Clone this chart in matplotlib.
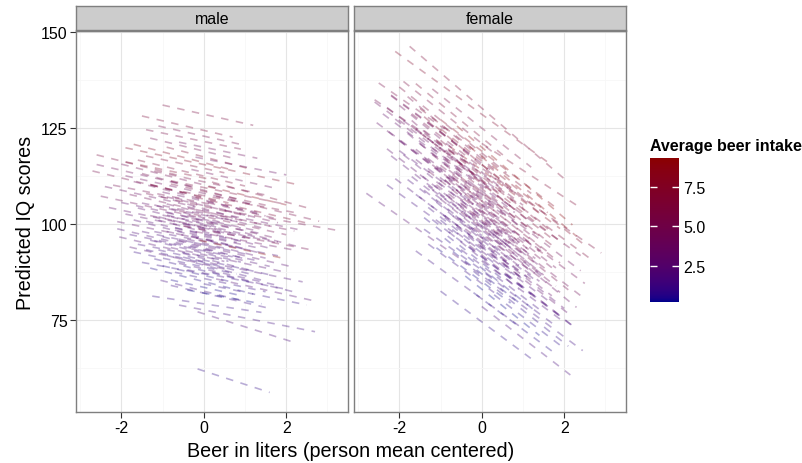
import numpy as np
import matplotlib
matplotlib.use("Agg")
import matplotlib.pyplot as plt
from matplotlib.colors import ListedColormap, Normalize, to_rgb
from matplotlib.cm import ScalarMappable

plt.rcParams['font.family'] = ['Liberation Sans', 'DejaVu Sans']
plt.rcParams['axes.unicode_minus'] = False

# one dashed line per person: start x, end x, value at x=0, slope, average beer
male_x0 = [-1.0, -1.5, -1.1, -1.9, -0.6, -1.3, -0.2, -0.9, -1.4, 0.2, 0.5, -2.7, -2.6, -2.5, -2.1, -2.05, -1.8,
           -1.25, -1.05, -0.6, -0.15, -0.15, 0.3, -0.8,
           -1.6, -1.2, -2.0, -0.8, -1.5, -1.9, -0.5, -1.3, -1.7, -1.0, -2.2, -0.7, -1.4, -1.1, -0.4, -1.8, -0.9,
           -1.5, -0.6, -1.2, -2.0, -0.3, -1.0, -1.6, -0.8, -1.3, -0.5, -1.9, -1.1, -0.2, -1.4, -0.7, -1.7, -0.9,
           -1.2, -0.4, -1.5, -0.6, -1.0, -1.8, -0.3, -1.3, -0.8, -1.6, -0.5, -1.1, -0.2, -1.4, -0.9, -1.7, -0.6,
           -1.2, -0.4, -1.0, -0.7, -1.3, 0.0, -0.8,
           0.3, -0.2, 0.4, -0.5, -2.4, -2.3, -2.6, -2.1, -1.9, -1.7, -1.4, -0.3, 0.1, -0.4, 0.2, -1.5, -0.1, 1.0,
           -0.9, -0.4, -1.1, -0.2, -0.7, -1.3, 0.0, -0.6, -1.0, -0.3, -0.8, -1.2, 0.1, -0.5, -0.9]
male_x1 = [1.2, 0.7, 0.9, 2.2, 1.3, 0.8, 2.0, 1.1, 0.5, 2.6, 3.2, -0.5, -0.3, 0.0, 0.2, 0.5, 0.6,
           1.4, 1.0, 2.7, 2.15, 1.6, 2.7, 1.6,
           1.0, 1.6, 0.4, 1.9, 0.9, 1.2, 2.3, 0.6, 1.5, 1.3, 0.2, 1.8, 1.1, 0.8, 2.4, 0.7, 1.5,
           1.0, 2.0, 0.5, 0.9, 1.7, 1.4, 0.3, 1.2, 1.9, 1.0, 0.6, 1.6, 2.2, 0.8, 1.3, 1.1, 0.7,
           1.8, 1.5, 0.4, 2.1, 1.0, 1.3, 1.6, 0.9, 1.9, 0.6, 1.2, 1.7, 2.4, 0.5, 1.4, 0.8, 1.8,
           1.1, 2.0, 0.7, 1.5, 1.2, 2.5, 0.9,
           2.8, 2.5, 2.2, 2.6, -0.2, 0.0, -0.6, 0.3, 0.1, 0.6, 0.9, 1.8, 2.0, 1.4, 2.3, 0.2, 1.9, 2.4,
           1.0, 1.3, 0.6, 1.6, 0.9, 0.4, 1.8, 1.1, 0.8, 1.4, 1.5, 0.7, 1.7, 1.2, 0.5]
male_b0 = [128.6, 124.4, 122.9, 115.5, 120.0, 119.0, 117.0, 117.5, 114.5, 111.5, 104.5, 106.8, 109.0, 101.5,
           96.0, 91.5, 89.5, 79.2, 82.5, 77.6, 76.6, 61.7, 86.4, 82.0,
           112.5, 111.0, 110.2, 109.5, 108.8, 108.0, 107.4, 107.0, 106.3, 106.0, 105.5, 105.0, 104.6, 104.0,
           103.6, 103.2, 102.8, 102.3, 102.0, 101.6, 101.0, 100.7, 100.3, 100.0, 99.6, 99.2, 98.8, 98.4, 98.0,
           97.6, 97.2, 96.8, 96.3, 95.9, 95.5, 95.0, 94.6, 94.2, 93.8, 93.3, 92.8, 92.4, 92.0, 91.5, 91.0,
           90.6, 90.2, 89.8, 89.3, 88.8, 88.3, 87.8, 87.2, 86.6, 85.8, 85.0, 84.4, 83.5,
           108.0, 106.5, 103.0, 98.5, 104.0, 99.0, 111.0, 93.5, 112.0, 116.0, 121.5, 113.5, 110.0, 82.0,
           88.0, 87.0, 95.5, 100.5,
           104.8, 101.2, 99.0, 103.3, 97.5, 106.8, 99.8, 94.6, 102.5, 96.0, 108.5, 93.0, 105.8, 90.0, 100.8]
male_slope = [-2.4, -2.5, -2.4, -2.3, -2.2, -2.6, -2.1, -2.8, -2.3, -2.9, -1.9, -2.6, -2.5, -2.3, -2.2,
              -2.5, -2.5, -1.6, -2.7, -2.1, -3.4, -3.5, -2.4, -2.5,
              -2.6, -2.3, -2.7, -2.2, -2.9, -2.4, -2.0, -2.5, -2.8, -2.3, -2.1, -2.6, -2.4, -3.0, -2.2, -2.5,
              -2.7, -2.1, -2.4, -2.8, -2.3, -2.5, -2.0, -2.6, -2.9, -2.3, -2.4, -2.2, -2.7, -2.0, -2.5, -2.3,
              -2.8, -2.4, -2.1, -2.6, -2.3, -2.5, -2.9, -2.2, -2.4, -2.6, -2.3, -2.0, -2.7, -2.4, -2.2, -2.5,
              -2.8, -2.3, -2.4, -2.6, -2.1, -2.5, -2.3, -2.7, -2.2, -2.4,
              -2.6, -2.5, -2.2, -2.0, -2.4, -2.3, -2.7, -2.5, -2.2, -2.8, -2.2, -2.4, -2.5, -2.0, -2.6, -2.0,
              -2.3, -2.8,
              -2.5, -2.3, -2.6, -2.4, -2.2, -2.7, -2.5, -2.4, -2.3, -2.6, -2.4, -2.2, -2.5, -2.7, -2.4]
male_avg = [5.8, 6.2, 5.0, 7.6, 4.0, 4.6, 3.6, 6.8, 6.4, 6.2, 5.0, 5.2, 4.2, 4.2, 3.0, 2.2, 2.3,
            1.0, 1.4, 1.3, 1.8, 0.8, 2.2, 1.2,
            6.4, 5.4, 4.6, 6.0, 5.0, 4.0, 5.6, 6.8, 4.2, 3.6, 4.9, 4.2, 5.2, 3.8, 3.3, 4.4, 3.6, 3.0, 4.8,
            3.3, 2.8, 3.8, 3.1, 2.6, 2.9, 3.4, 2.4, 2.8, 2.6, 3.7, 2.2, 2.4, 2.1, 2.7, 1.9, 2.3, 1.7, 2.5,
            1.8, 1.6, 2.0, 1.5, 2.2, 1.3, 1.7, 1.2, 1.9, 1.1, 1.4, 1.0, 1.6, 0.8, 1.3, 0.7, 1.0, 0.5, 0.9, 0.4,
            5.4, 6.6, 4.4, 5.0, 3.6, 3.0, 5.8, 1.9, 7.0, 7.6, 5.4, 4.2, 8.2, 0.3, 1.5, 0.9, 9.3, 3.2,
            4.0, 3.2, 2.8, 4.4, 2.0, 5.0, 3.0, 1.8, 3.6, 2.3, 5.6, 1.6, 4.6, 1.2, 2.9]

female_x0 = [-2.1, -1.75, 0.0, -1.2, -2.6, -2.8, 0.0, -0.5, -0.3, 0.2, -0.8, -2.6, -2.3, -2.3, -2.55, -2.3,
             -2.1, -1.0, -1.6,
             -2.0, -1.5, -1.8, -1.0, -2.2, -1.3, -1.7, -0.8, -2.0, -1.4, -1.1, -1.9, -0.6, -1.6, -1.2, -2.1,
             -0.9, -1.5, -0.5, -1.8, -1.0, -1.4, -0.7, -2.0, -1.2, -0.4, -1.6, -0.9, -1.3, -0.6, -1.9, -1.1,
             -0.3, -1.5, -0.8, -1.2, -0.5, -1.7, -1.0, -0.2, -1.4, -0.7, -1.1, -0.4, -1.6, -0.9, -0.1, -1.3,
             -0.6, -1.0, -0.3, -1.2, -0.8, 0.0, -1.4, -0.5, -0.9, 0.1, -0.7, -0.2, -1.1, 0.3, -0.4,
             0.0, -0.3, 0.4, -0.6, 0.5, -2.5, -2.2, -1.9, -1.6, -2.4, -2.0, -1.8, -1.4, -2.2,
             0.5, 0.3, 0.8, -0.2, 0.6, 0.2, 1.0, -1.7, -1.0, -0.9, -0.2, -2.3, -1.3,
             -1.2, -0.8, -1.5, -0.5, -1.0, -0.3, -1.3, -0.6, -1.1, -0.2, -0.9, -1.6, -0.4, -1.4, 0.0]
female_x1 = [1.7, 2.0, 2.35, 1.2, -0.3, -0.3, 2.15, 2.45, 2.3, 2.9, 2.4, 0.2, 0.0, 0.5, -0.6, 0.6,
             0.8, 1.3, 0.9,
             0.6, 1.2, 0.4, 1.6, 0.2, 1.4, 0.9, 1.9, 0.5, 1.0, 1.7, 0.3, 2.0, 1.1, 0.7, 0.8,
             1.5, 0.4, 1.8, 1.0, 1.3, 0.6, 1.9, 0.2, 1.4, 1.6, 0.8, 1.1, 1.7, 0.9, 0.5, 1.3,
             2.1, 1.0, 1.5, 0.7, 1.8, 0.6, 1.2, 1.9, 0.9, 1.4, 0.5, 1.7, 1.1, 1.0, 2.2, 0.8,
             1.6, 0.4, 1.9, 1.2, 0.9, 2.0, 0.6, 1.5, 1.3, 1.8, 1.0, 2.1, 0.7, 1.9, 1.4,
             2.5, 2.3, 2.6, 2.2, 2.4, -0.9, -0.2, 0.3, 0.6, -0.5, -0.2, 0.0, 0.4, -0.4,
             2.0, 2.3, 2.4, 1.7, 2.2, 1.5, 2.5, 0.2, 1.8, 1.2, 1.3, -0.7, 0.3,
             0.8, 1.2, 0.5, 1.4, 1.0, 1.6, 0.6, 1.3, 0.9, 1.7, 1.1, 0.3, 1.5, 0.7, 1.8]
female_b0 = [128.6, 130.2, 121.0, 125.0, 113.4, 87.0, 78.5, 86.6, 91.5, 114.2, 107.5, 111.0, 111.5, 105.0,
             106.0, 100.5, 94.8, 74.5, 80.5,
             118.5, 117.8, 117.0, 116.4, 115.8, 115.2, 114.6, 114.0, 113.5, 113.0, 112.4, 111.9, 111.3,
             110.8, 110.2, 109.7, 109.2, 108.6, 108.1, 107.6, 107.0, 106.5, 106.0, 105.5, 105.0, 104.5,
             104.0, 103.4, 102.9, 102.4, 101.9, 101.4, 100.9, 100.4, 99.9, 99.4, 98.9, 98.4, 97.9, 97.4,
             96.9, 96.4, 95.9, 95.4, 94.9, 94.4, 93.9, 93.4, 92.9, 92.4, 91.9, 91.4, 90.9, 90.4, 89.9,
             89.2, 88.5, 87.8, 87.0, 86.0, 85.0, 84.0, 83.0,
             115.5, 117.5, 112.0, 120.0, 110.0, 118.0, 116.0, 121.0, 122.5, 109.5, 103.5, 97.0, 88.0, 99.5,
             95.0, 98.5, 101.0, 80.5, 92.0, 100.0, 104.5, 111.0, 119.0, 103.0, 108.5, 92.5, 84.5,
             108.0, 104.5, 111.5, 101.0, 113.0, 106.0, 99.5, 96.5, 102.0, 110.5, 94.0, 106.5, 99.0, 115.5,
             103.5]
female_slope = [-7.8, -9.2, -7.0, -8.5, -7.3, -7.5, -8.3, -8.0, -8.2, -7.5, -8.2, -8.0, -8.2, -8.4, -8.0,
                -8.3, -8.1, -8.0, -7.8,
                -8.6, -8.2, -9.0, -8.4, -8.0, -8.8, -8.3, -8.0, -8.7, -8.1, -8.5, -7.9, -8.3, -8.8, -8.0,
                -8.4, -8.6, -8.2, -8.0, -8.9, -8.3, -7.8, -8.5, -8.1, -8.7, -8.2, -8.0, -8.9, -8.4, -8.1,
                -8.5, -8.0, -8.6, -8.3, -8.8, -7.9, -8.4, -8.2, -8.6, -8.0, -8.5, -8.1, -8.9, -8.3, -8.0,
                -8.7, -8.2, -8.4, -8.0, -8.6, -8.3, -8.1, -8.8, -8.0, -8.4, -8.2, -8.6, -8.0, -8.3, -8.5,
                -8.0, -8.2, -8.6,
                -8.4, -9.0, -8.0, -9.2, -7.6, -7.5, -8.0, -8.5, -8.8, -8.0, -7.8, -8.1, -7.6, -8.3,
                -8.5, -8.8, -8.2, -8.0, -8.4, -9.0, -8.0, -9.4, -8.2, -9.5, -8.5, -7.7, -7.9,
                -8.4, -8.6, -8.2, -8.5, -8.8, -8.3, -8.0, -8.6, -8.2, -8.4, -8.5, -8.1, -8.7, -8.9, -8.3]
female_avg = [7.2, 6.4, 6.6, 5.6, 4.8, 2.4, 1.6, 1.2, 2.0, 6.0, 4.2, 3.8, 4.6, 3.4, 3.2, 2.8, 2.0, 0.8, 1.2,
              6.0, 6.8, 5.2, 7.4, 4.4, 6.0, 5.4, 8.0, 4.0, 5.0, 6.4, 3.6, 7.0, 4.6, 4.2, 3.3, 5.6, 3.7, 6.4,
              3.2, 4.8, 3.4, 5.6, 2.9, 4.1, 5.4, 2.7, 3.9, 4.6, 3.5, 2.4, 3.8, 5.0, 2.6, 3.3, 2.2, 4.1, 2.0,
              2.8, 3.8, 1.9, 2.5, 1.7, 3.2, 1.5, 2.1, 3.0, 1.3, 2.0, 1.1, 2.4, 1.0, 1.6, 1.8, 0.8, 1.2, 0.6,
              1.1, 0.5, 0.8, 0.4, 0.7, 0.25,
              7.2, 8.6, 6.4, 9.0, 5.0, 5.4, 4.4, 5.8, 6.6, 3.0, 2.2, 1.6, 0.9, 2.3,
              2.6, 3.4, 4.4, 0.6, 1.4, 3.1, 4.5, 4.2, 7.8, 3.6, 4.8, 1.4, 1.1,
              4.4, 3.8, 5.0, 3.2, 6.0, 5.2, 2.4, 2.0, 3.0, 6.6, 1.6, 3.6, 2.6, 6.8, 4.4]

panels = ['male', 'female']
x_ticks = [-2, 0, 2]
y_ticks = [75, 100, 125, 150]
legend_ticks = [2.5, 5.0, 7.5]


# ggplot-like gradient darkblue -> darkred, interpolated in Lab
def to_lab(rgb):
    c = np.array(rgb, dtype=float)
    c = np.where(c > 0.04045, ((c + 0.055) / 1.055) ** 2.4, c / 12.92)
    m = np.array([[0.4124, 0.3576, 0.1805], [0.2126, 0.7152, 0.0722], [0.0193, 0.1192, 0.9505]])
    xyz = m @ c / np.array([0.95047, 1.0, 1.08883])
    f = np.where(xyz > 0.008856, np.cbrt(xyz), 7.787 * xyz + 16 / 116)
    return np.array([116 * f[1] - 16, 500 * (f[0] - f[1]), 200 * (f[1] - f[2])])


def from_lab(lab):
    fy = (lab[0] + 16) / 116
    f = np.array([fy + lab[1] / 500, fy, fy - lab[2] / 200])
    xyz = np.where(f ** 3 > 0.008856, f ** 3, (f - 16 / 116) / 7.787) * np.array([0.95047, 1.0, 1.08883])
    m = np.array([[3.2406, -1.5372, -0.4986], [-0.9689, 1.8758, 0.0415], [0.0557, -0.2040, 1.0570]])
    c = m @ xyz
    c = np.where(c > 0.0031308, 1.055 * np.abs(c) ** (1 / 2.4) - 0.055, 12.92 * c)
    return np.clip(c, 0, 1)


lo = to_lab(to_rgb('darkblue'))
hi = to_lab(to_rgb('darkred'))
cmap = ListedColormap([from_lab(lo + t * (hi - lo)) for t in np.linspace(0, 1, 256)])
norm = Normalize(0.25, 9.3)

W, H = 803, 464
fig = plt.figure(figsize=(W / 100, H / 100), dpi=100)

data = {
    'male': (male_x0, male_x1, male_b0, male_slope, male_avg),
    'female': (female_x0, female_x1, female_b0, female_slope, female_avg),
}
lefts = [76, 354]
pw = 272
for i, name in enumerate(panels):
    ax = fig.add_axes([lefts[i] / W, 1 - 413 / H, pw / W, (413 - 32) / H])
    x0s, x1s, b0s, ss, avgs = data[name]
    for x0, x1, b0, s, a in zip(x0s, x1s, b0s, ss, avgs):
        ax.plot([x0, x1], [b0 + s * x0, b0 + s * x1], color=cmap(norm(a)), alpha=0.32, lw=1.2,
                ls=(0, (4.5, 4.5)), dash_capstyle='butt')
    ax.set_xlim(-3.1, 3.5)
    ax.set_ylim(51, 150.3)
    ax.set_xticks(x_ticks)
    ax.set_xticks([-3, -1, 1, 3], minor=True)
    ax.set_yticks(y_ticks)
    ax.set_yticks([62.5, 87.5, 112.5, 137.5], minor=True)
    ax.grid(True, which='major', color='#E5E5E5', lw=0.8)
    ax.grid(True, which='minor', color='#F7F7F7', lw=0.6)
    ax.set_axisbelow(True)
    for sp in ax.spines.values():
        sp.set_color('#7F7F7F')
        sp.set_linewidth(1.0)
    ax.tick_params(which='minor', length=0)
    ax.tick_params(which='major', length=4, color='#333333', labelsize=11.5, labelcolor='black', pad=2)
    if i == 0:
        ax.set_ylabel('Predicted IQ scores', fontsize=14.2, labelpad=4)
    else:
        ax.tick_params(axis='y', which='both', left=False, labelleft=False)

    sax = fig.add_axes([lefts[i] / W, 1 - 31 / H, pw / W, 24 / H])
    sax.set_facecolor('#CCCCCC')
    sax.set_xticks([])
    sax.set_yticks([])
    for sp in sax.spines.values():
        sp.set_color('#7F7F7F')
        sp.set_linewidth(1.0)
    sax.text(0.5, 0.5, name, ha='center', va='center', fontsize=11.5, transform=sax.transAxes)

fig.text((76 + 626) / 2 / W, 1 - 452 / H, 'Beer in liters (person mean centered)', ha='center',
         va='center', fontsize=14.2)

cax = fig.add_axes([650 / W, 1 - 303 / H, 29 / W, 144 / H])
cb = fig.colorbar(ScalarMappable(norm=norm, cmap=cmap), cax=cax)
cb.outline.set_visible(False)
cb.set_ticks(legend_ticks)
cb.set_ticklabels(['2.5', '5.0', '7.5'])
cax.yaxis.set_ticks_position('both')
cax.tick_params(axis='y', direction='in', color='white', length=5, width=1, labelsize=11.5,
                labelleft=False, labelright=True, pad=3)
fig.text(650 / W, 1 - 147 / H, 'Average beer intake', fontsize=11.5, weight='bold', va='center')

fig.savefig('out.png', dpi=100)
